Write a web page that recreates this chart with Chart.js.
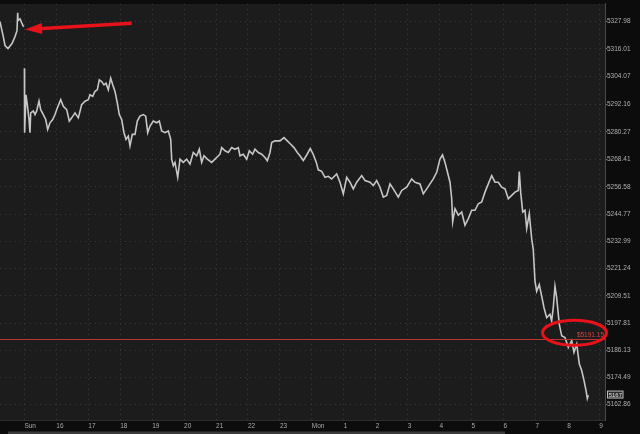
<!DOCTYPE html>
<html>
<head>
<meta charset="utf-8">
<script src="https://cdn.jsdelivr.net/npm/chart.js@4.4.0/dist/chart.umd.min.js"></script>
<style>
  html, body { margin: 0; padding: 0; background: #0c0c0c; }
  #wrap { width: 640px; height: 434px; }
</style>
</head>
<body>
<div id="wrap"><canvas id="myChart"></canvas></div>
<script>
// hour slots on the x axis, 0 = Sunday open
const xLabels = ['Sun', '16', '17', '18', '19', '20', '21', '22', '23', 'Mon', '1', '2', '3', '4', '5', '6', '7', '8', '9'];
const yTicks = [5327.98, 5316.01, 5304.07, 5292.16, 5280.27, 5268.41, 5256.58, 5244.77, 5232.99, 5221.24, 5209.51, 5197.81, 5186.13, 5174.49, 5162.86];

// friday close, then a gap (null), then the overnight session
const times = [
    -0.764, -0.661, -0.607, -0.513, -0.388, -0.294, -0.232, -0.210, -0.200, -0.138, -0.044, -0.013,
    -0.006,
    0.000, 0.006, 0.050, 0.091, 0.144, 0.175, 0.197, 0.279, 0.332, 0.385, 0.457, 0.510, 0.592, 0.667, 0.729, 0.801, 0.886, 0.958,
    1.030, 1.137, 1.218, 1.324, 1.406, 1.481, 1.584, 1.688, 1.741, 1.794, 1.897, 2.001, 2.054, 2.138, 2.210, 2.282, 2.345, 2.420,
    2.492, 2.555, 2.627, 2.702, 2.765, 2.837, 2.909, 2.971, 3.046, 3.118, 3.181, 3.253, 3.306, 3.378, 3.463, 3.535, 3.619, 3.723,
    3.798, 3.861, 3.933, 4.036, 4.142, 4.224, 4.299, 4.402, 4.506, 4.581, 4.612, 4.662, 4.715, 4.800, 4.872, 4.975, 5.082, 5.185,
    5.288, 5.395, 5.476, 5.551, 5.623, 5.727, 5.864, 5.968, 6.124, 6.177, 6.281, 6.384, 6.490, 6.594, 6.697, 6.750, 6.854, 6.960,
    7.042, 7.148, 7.220, 7.323, 7.430, 7.533, 7.605, 7.690, 7.743, 7.846, 8.003, 8.128, 8.231, 8.338, 8.441, 8.545, 8.629, 8.732,
    8.839, 8.951, 9.045, 9.139, 9.202, 9.308, 9.412, 9.515, 9.621, 9.778, 9.881, 9.985, 10.091, 10.195, 10.298, 10.404, 10.561,
    10.664, 10.821, 10.924, 11.030, 11.134, 11.237, 11.344, 11.447, 11.550, 11.707, 11.813, 11.970, 12.126, 12.230, 12.386, 12.490,
    12.596, 12.699, 12.803, 12.909, 13.012, 13.091, 13.169, 13.222, 13.326, 13.379, 13.410, 13.482, 13.585, 13.692, 13.795, 13.899,
    14.005, 14.108, 14.212, 14.318, 14.421, 14.525, 14.631, 14.735, 14.838, 14.944, 15.048, 15.151, 15.258, 15.361, 15.464, 15.496,
    15.539, 15.602, 15.674, 15.727, 15.808, 15.883, 15.934, 15.987, 16.040, 16.121, 16.197, 16.269, 16.353, 16.456, 16.509, 16.559,
    16.613, 16.666, 16.747, 16.823, 16.926, 17.030, 17.136, 17.208, 17.293, 17.374, 17.449, 17.521, 17.584, 17.625, 17.656
];
const prices = [
    5327.68, 5321.28, 5317.43, 5316.15, 5318.29, 5321.28, 5323.84, 5331.52, 5328.11, 5328.96, 5325.97, 5325.55,
    null,
    5307.61, 5279.86, 5296.21, 5291.94, 5285.54, 5279.86, 5288.40, 5289.25, 5287.67, 5289.25, 5293.52, 5289.81, 5287.67, 5285.54, 5281.27, 5284.13, 5285.54, 5287.67,
    5290.53, 5294.08, 5291.26, 5289.81, 5284.86, 5286.26, 5288.40, 5286.26, 5289.13, 5291.94, 5293.40, 5294.08, 5296.21, 5295.53, 5297.67, 5298.35, 5302.62, 5301.94,
    5300.48, 5301.21, 5298.35, 5303.34, 5300.48, 5297.67, 5292.67, 5287.67, 5285.54, 5279.86, 5277.00, 5278.45, 5274.18, 5279.13, 5279.13, 5284.86, 5286.99, 5287.67,
    5286.99, 5279.86, 5282.72, 5284.86, 5284.13, 5284.86, 5280.59, 5279.86, 5280.59, 5277.00, 5268.46, 5265.64, 5267.05, 5260.64, 5268.46, 5267.05, 5268.46, 5266.32,
    5271.32, 5269.91, 5272.73, 5267.05, 5269.91, 5268.46, 5267.05, 5268.46, 5270.59, 5273.45, 5272.05, 5271.32, 5273.45, 5272.73, 5273.45, 5269.91, 5270.59, 5268.46,
    5272.05, 5270.59, 5272.73, 5271.32, 5270.59, 5269.18, 5267.78, 5271.32, 5275.59, 5276.32, 5276.32, 5277.72, 5276.32, 5274.86, 5273.45, 5271.32, 5269.91, 5267.90,
    5270.25, 5273.03, 5270.47, 5267.05, 5263.85, 5263.21, 5260.64, 5261.07, 5259.92, 5262.05, 5258.51, 5253.51, 5260.64, 5258.51, 5255.65, 5258.51, 5261.37,
    5259.24, 5258.51, 5257.10, 5259.24, 5256.37, 5252.10, 5252.83, 5257.78, 5255.65, 5252.10, 5254.97, 5256.37, 5259.92, 5258.51, 5257.78, 5253.51,
    5255.65, 5257.78, 5259.92, 5262.78, 5268.46, 5270.25, 5267.05, 5264.19, 5258.51, 5251.38, 5241.43, 5247.11, 5244.29, 5245.70, 5240.02, 5242.84,
    5246.43, 5246.43, 5249.24, 5249.97, 5254.24, 5257.78, 5261.37, 5258.51, 5258.51, 5256.37, 5255.65, 5251.38, 5252.83, 5254.24, 5254.97, 5263.08,
    5254.24, 5245.70, 5246.43, 5238.57, 5244.97, 5234.30, 5229.35, 5215.81, 5211.54, 5214.40, 5209.40, 5204.41, 5200.14, 5201.59, 5198.73, 5204.41,
    5213.67, 5208.68, 5197.32, 5192.32, 5191.60, 5187.33, 5190.19, 5185.19, 5188.78, 5180.24, 5177.38, 5173.11, 5168.84, 5165.30, 5166.70
];

const alertLevel = 5191.15;
const lastPrice = 5167;

const fontFamily = '"Liberation Sans", Arial, sans-serif';
let ctx = document.getElementById('myChart').getContext('2d');

const chartDecor = {
    id: 'chartDecor',
    beforeDraw(chart) {
        const { ctx, chartArea: a, width, height } = chart;
        ctx.save();
        ctx.fillStyle = '#0c0c0c';
        ctx.fillRect(0, 0, width, height);
        ctx.fillStyle = '#1c1c1c';
        ctx.fillRect(a.left, a.top, a.right - a.left, a.bottom - a.top);
        // scrollbar strip at the very bottom
        ctx.fillStyle = '#3b3b3b';
        ctx.fillRect(8, height - 2.5, 497, 2.5);
        ctx.restore();
    },
    afterDraw(chart) {
        const { ctx, chartArea: a, scales: { x, y } } = chart;
        ctx.save();

        // alert line
        const ly = Math.round(y.getPixelForValue(alertLevel)) + 0.5;
        ctx.strokeStyle = '#b8362f';
        ctx.lineWidth = 1;
        ctx.beginPath();
        ctx.moveTo(a.left, ly);
        ctx.lineTo(a.right, ly);
        ctx.stroke();
        ctx.fillStyle = '#d8443c';
        ctx.font = '6.5px ' + fontFamily;
        ctx.textAlign = 'right';
        ctx.textBaseline = 'bottom';
        ctx.fillText('$' + alertLevel.toFixed(2), a.right - 1, ly - 1);

        // last price bubble
        const py = y.getPixelForValue(lastPrice);
        ctx.fillStyle = '#2a2a2a';
        ctx.strokeStyle = '#bdbdbd';
        ctx.lineWidth = 1;
        ctx.fillRect(607.5, py - 3.5, 15.5, 7);
        ctx.strokeRect(607.5, py - 3.5, 15.5, 7);
        ctx.fillStyle = '#e6e6e6';
        ctx.textAlign = 'center';
        ctx.textBaseline = 'middle';
        ctx.font = '6px ' + fontFamily;
        ctx.fillText(String(lastPrice), 615.3, py + 0.3);

        // red ellipse around the alert label
        ctx.strokeStyle = '#e8121b';
        ctx.lineWidth = 3;
        ctx.beginPath();
        ctx.ellipse(x.getPixelForValue(17.224), y.getPixelForValue(5193.6), 32, 12.5, 0, 0, Math.PI * 2);
        ctx.stroke();

        // red arrow pointing at the friday close
        const tipX = x.getPixelForValue(0.02), tipY = y.getPixelForValue(5324.3);
        const tailX = x.getPixelForValue(3.36), tailY = y.getPixelForValue(5327.0);
        const ang = Math.atan2(tipY - tailY, tipX - tailX);
        const headLen = 17, headW = 5.5;
        const bx = tipX - Math.cos(ang) * headLen, by = tipY - Math.sin(ang) * headLen;
        ctx.fillStyle = '#e8121b';
        ctx.lineWidth = 3.5;
        ctx.beginPath();
        ctx.moveTo(tailX, tailY);
        ctx.lineTo(bx, by);
        ctx.stroke();
        ctx.beginPath();
        ctx.moveTo(tipX, tipY);
        ctx.lineTo(bx - Math.sin(ang) * headW, by + Math.cos(ang) * headW);
        ctx.lineTo(bx + Math.sin(ang) * headW, by - Math.cos(ang) * headW);
        ctx.closePath();
        ctx.fill();

        ctx.restore();
    }
};

const myChart = new Chart(ctx, {
    type: 'line',
    data: {
        datasets: [{
            label: 'Price',
            data: times.map((t, i) => ({ x: t, y: prices[i] })),
            borderColor: '#c6c6c6',
            borderWidth: 1.6,
            pointRadius: 0,
            tension: 0,
            spanGaps: false
        }]
    },
    options: {
        responsive: true,
        maintainAspectRatio: false,
        animation: false,
        layout: { padding: 0 },
        plugins: {
            legend: { display: false },
            tooltip: { enabled: false }
        },
        scales: {
            x: {
                type: 'linear',
                min: -0.764,
                max: 18.179,
                afterBuildTicks: (scale) => {
                    scale.ticks = xLabels.map((l, i) => ({ value: i }));
                },
                afterFit: (scale) => { scale.height = 14; },
                ticks: {
                    autoSkip: false,
                    maxRotation: 0,
                    align: 'start',
                    padding: 2,
                    color: '#a9a9a9',
                    font: { family: fontFamily, size: 6.5 },
                    callback: (v) => xLabels[v]
                },
                grid: {
                    color: '#3a3a3a',
                    drawTicks: false
                },
                border: { display: true, color: '#2c2c2c', dash: [1, 4] }
            },
            y: {
                position: 'right',
                min: 5156.03,
                max: 5335.37,
                afterBuildTicks: (scale) => {
                    scale.ticks = yTicks.map((v) => ({ value: v }));
                },
                afterFit: (scale) => { scale.width = 35; },
                ticks: {
                    padding: 0,
                    color: '#b0b0b0',
                    font: { family: fontFamily, size: 6.5 },
                    callback: (v) => v.toFixed(2)
                },
                grid: {
                    color: '#3a3a3a',
                    tickColor: '#777777',
                    tickLength: 2,
                    drawTicks: true
                },
                border: { display: true, color: '#4a4a4a', dash: [1, 4] }
            }
        }
    },
    plugins: [chartDecor]
});
</script>
</body>
</html>
